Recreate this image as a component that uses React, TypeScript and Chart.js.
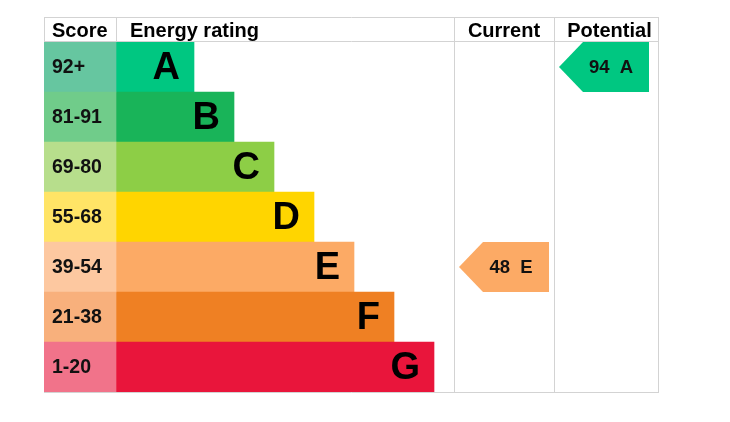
import React, { useEffect, useRef } from 'react';
import { Chart, BarController, BarElement, LinearScale, CategoryScale } from 'chart.js';

Chart.register(BarController, BarElement, LinearScale, CategoryScale);

// EPC bands, top (best) to bottom
const ratingLetters = ['A', 'B', 'C', 'D', 'E', 'F', 'G'];
const scoreBands = ['92+', '81-91', '69-80', '55-68', '39-54', '21-38', '1-20'];
const bandMinimums = [92, 81, 69, 55, 39, 21, 1];
const barLengths = [78, 118, 158, 198, 238, 278, 318];
const ratingColors = ['#00c781', '#19b459', '#8dce46', '#ffd500', '#fcaa65', '#ef8023', '#e9153b'];
const scoreColors = ['#66c6a0', '#70cc8a', '#b7de8c', '#ffe466', '#fdc8a0', '#f8b07c', '#f1738a'];
const headers = ['Score', 'Energy rating', 'Current', 'Potential'];
const currentScore = 48;
const potentialScore = 94;

// table layout, in x-scale units
const TABLE_W = 615;
const SCORE_W = 72;
const CURRENT_L = 410;
const POTENTIAL_L = 510;
const HEADER_H = 25;
const FONT = '"Liberation Sans", Arial, sans-serif';

const epcTable = {
  id: 'epcTable',
  afterDatasetsDraw(chart: Chart) {
    const { ctx, chartArea } = chart;
    const x = chart.scales.x;
    const y = chart.scales.y;
    const px = (v: number) => x.getPixelForValue(v);
    const band = Math.abs(y.getPixelForValue(1) - y.getPixelForValue(0));
    const top = chartArea.top;
    const bottom = chartArea.bottom;
    const headTop = top - HEADER_H;

    ctx.save();

    // grid lines
    ctx.strokeStyle = '#d3d3d3';
    ctx.lineWidth = 1;
    const line = (x1: number, y1: number, x2: number, y2: number) => {
      ctx.beginPath();
      ctx.moveTo(x1, y1);
      ctx.lineTo(x2, y2);
      ctx.stroke();
    };
    line(px(0), headTop + 0.5, px(TABLE_W), headTop + 0.5);
    line(px(0), top - 0.5, px(TABLE_W), top - 0.5);
    line(px(0), bottom + 0.5, px(TABLE_W), bottom + 0.5);
    line(px(0) + 0.5, headTop, px(0) + 0.5, top);
    line(px(SCORE_W) + 0.5, headTop, px(SCORE_W) + 0.5, top);
    line(px(CURRENT_L) + 0.5, headTop, px(CURRENT_L) + 0.5, bottom + 1);
    line(px(POTENTIAL_L) + 0.5, headTop, px(POTENTIAL_L) + 0.5, bottom + 1);
    line(px(TABLE_W) - 0.5, headTop, px(TABLE_W) - 0.5, bottom + 1);

    // headers
    ctx.fillStyle = '#000';
    ctx.textBaseline = 'alphabetic';
    ctx.font = `bold 20px ${FONT}`;
    const hy = headTop + HEADER_H / 2 + 7.5;
    ctx.textAlign = 'left';
    ctx.fillText(headers[0], px(0) + 8, hy);
    ctx.fillText(headers[1], px(SCORE_W) + 14, hy);
    ctx.textAlign = 'center';
    ctx.fillText(headers[2], (px(CURRENT_L) + px(POTENTIAL_L)) / 2, hy);
    ctx.fillText(headers[3], (px(POTENTIAL_L) + px(TABLE_W)) / 2 + 3, hy);

    // score labels and rating letters
    const scoreMeta = chart.getDatasetMeta(0);
    const ratingMeta = chart.getDatasetMeta(1);
    scoreBands.forEach((label, i) => {
      const el: any = scoreMeta.data[i];
      ctx.fillStyle = '#111';
      ctx.textAlign = 'left';
      ctx.font = `bold 19.5px ${FONT}`;
      ctx.fillText(label, el.base + 8, el.y + 6);
      const bar: any = ratingMeta.data[i];
      ctx.fillStyle = '#000';
      ctx.textAlign = 'right';
      ctx.font = `bold 38px ${FONT}`;
      ctx.fillText(ratingLetters[i], bar.x - 14, bar.y + 12.3);
    });

    // current / potential arrows
    const drawArrow = (score: number, colLeft: number) => {
      const row = bandMinimums.findIndex((m) => score >= m);
      const cy = y.getPixelForValue(row);
      const half = band / 2;
      const left = px(colLeft) + 5;
      const right = left + 90;
      const tip = 24;
      ctx.beginPath();
      ctx.moveTo(left, cy);
      ctx.lineTo(left + tip, cy - half);
      ctx.lineTo(right, cy - half);
      ctx.lineTo(right, cy + half);
      ctx.lineTo(left + tip, cy + half);
      ctx.closePath();
      ctx.fillStyle = ratingColors[row];
      ctx.fill();
      ctx.fillStyle = '#111';
      ctx.font = `bold 18.5px ${FONT}`;
      ctx.textAlign = 'center';
      ctx.fillText(`${score}  ${ratingLetters[row]}`, left + 52, cy + 6.3);
    };
    drawArrow(currentScore, CURRENT_L);
    drawArrow(potentialScore, POTENTIAL_L);

    ctx.restore();
  },
};

const App: React.FC = () => {
  const canvasRef = useRef<HTMLCanvasElement>(null);
  const chartRef = useRef<Chart | null>(null);

  useEffect(() => {
    if (!canvasRef.current) return;
    const ctx = canvasRef.current.getContext('2d');
    if (!ctx) return;

    chartRef.current = new Chart(ctx, {
      type: 'bar',
      data: {
        labels: ratingLetters,
        datasets: [
          {
            label: 'Score',
            data: scoreBands.map(() => [0, SCORE_W]) as any,
            backgroundColor: scoreColors,
            borderWidth: 0,
            barPercentage: 1,
            categoryPercentage: 1,
            grouped: false,
          },
          {
            label: 'Energy rating',
            data: barLengths.map((len) => [SCORE_W, SCORE_W + len]) as any,
            backgroundColor: ratingColors,
            borderWidth: 0,
            barPercentage: 1,
            categoryPercentage: 1,
            grouped: false,
          },
        ],
      },
      options: {
        indexAxis: 'y',
        responsive: false,
        animation: false,
        events: [],
        layout: { padding: { left: 44, right: 71, top: 42, bottom: 30 } },
        plugins: {
          legend: { display: false },
          tooltip: { enabled: false },
        },
        scales: {
          x: { type: 'linear', min: 0, max: TABLE_W, display: false },
          y: { type: 'category', display: false },
        },
      },
      plugins: [epcTable],
    });

    return () => {
      if (chartRef.current) {
        chartRef.current.destroy();
      }
    };
  }, []);

  return (
    <div style={{ position: 'absolute', left: 0, top: 0, width: 730, height: 422, background: '#fff' }}>
      <canvas ref={canvasRef} width={730} height={422} />
    </div>
  );
};

export default App;
